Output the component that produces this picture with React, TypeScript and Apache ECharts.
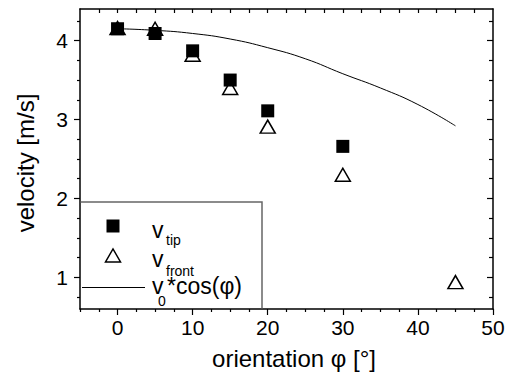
import React, { useEffect, useRef } from 'react';
import * as echarts from 'echarts';

// data
const phiTip = [0, 5, 10, 15, 20, 30];
const vTip = [4.15, 4.09, 3.87, 3.5, 3.11, 2.66];
const phiFront = [0, 5, 10, 15, 20, 30, 45];
const vFront = [4.16, 4.15, 3.82, 3.4, 2.91, 2.3, 0.94];
const phiModel = [0, 5, 10, 15, 20, 25, 30, 35, 40, 45];
const vModel = [4.15, 4.13, 4.09, 4.02, 3.91, 3.77, 3.58, 3.4, 3.19, 2.92];

// ticks
const xMajor = [0, 10, 20, 30, 40, 50];
const xMinor = [-5, -2.5, 2.5, 5, 7.5, 12.5, 15, 17.5, 22.5, 25, 27.5, 32.5, 35, 37.5, 42.5, 45, 47.5];
const xTop = [-2.5, 0, 2.5, 5, 7.5, 10, 12.5, 15, 17.5, 20, 22.5, 25, 27.5, 30, 32.5, 35, 37.5, 40, 42.5, 45, 47.5];
const yMajor = [1, 2, 3, 4];
const yMinor = [0.75, 1.25, 1.5, 1.75, 2.25, 2.5, 2.75, 3.25, 3.5, 3.75, 4.25];

const FONT = '"Liberation Sans", Arial, sans-serif';

export default function App() {
  const ref = useRef<HTMLDivElement>(null);
  useEffect(() => {
    document.body.style.margin = '0';
    const chart = echarts.init(ref.current!, null, { renderer: 'svg' });
    const gridBox = { left: 80, right: 17, top: 9, bottom: 67 };
    const lineStyle = { color: '#000', width: 1.5 };
    const tickStyle = { color: '#000', width: 1.2 };
    const hidden = { show: false };
    const noLine = { show: false, onZero: false };
    chart.setOption({
      animation: false,
      backgroundColor: '#fff',
      grid: [{ ...gridBox }, { ...gridBox }],
      xAxis: [
        {
          type: 'value', gridIndex: 0, position: 'bottom', min: -5, max: 50,
          axisLine: { show: true, onZero: false, lineStyle },
          axisTick: { show: true, inside: false, length: 6, customValues: xMajor, lineStyle: tickStyle },
          axisLabel: { show: true, customValues: xMajor, margin: 8, fontSize: 21, color: '#000', fontFamily: FONT },
          splitLine: hidden,
        },
        {
          type: 'value', gridIndex: 0, position: 'top', min: -5, max: 50,
          axisLine: { show: true, onZero: false, lineStyle },
          axisTick: { show: true, inside: true, length: 4, customValues: xTop, lineStyle: tickStyle },
          axisLabel: hidden,
          splitLine: hidden,
        },
        {
          type: 'value', gridIndex: 1, position: 'bottom', min: -5, max: 50,
          axisLine: noLine,
          axisTick: { show: true, inside: false, length: 3, customValues: xMinor, lineStyle: tickStyle },
          axisLabel: hidden,
          splitLine: hidden,
        },
      ],
      yAxis: [
        {
          type: 'value', gridIndex: 0, position: 'left', min: 0.6, max: 4.4,
          axisLine: { show: true, onZero: false, lineStyle },
          axisTick: { show: true, inside: false, length: 6, customValues: yMajor, lineStyle: tickStyle },
          axisLabel: { show: true, customValues: yMajor, margin: 12, fontSize: 21, color: '#000', fontFamily: FONT },
          splitLine: hidden,
        },
        {
          type: 'value', gridIndex: 0, position: 'right', min: 0.6, max: 4.4,
          axisLine: { show: true, onZero: false, lineStyle },
          axisTick: { show: true, inside: true, length: 6, customValues: yMajor, lineStyle: tickStyle },
          axisLabel: hidden,
          splitLine: hidden,
        },
        {
          type: 'value', gridIndex: 1, position: 'left', min: 0.6, max: 4.4,
          axisLine: noLine,
          axisTick: { show: true, inside: false, length: 3, customValues: yMinor, lineStyle: tickStyle },
          axisLabel: hidden,
          splitLine: hidden,
        },
        {
          type: 'value', gridIndex: 1, position: 'right', min: 0.6, max: 4.4,
          axisLine: noLine,
          axisTick: { show: true, inside: true, length: 4, customValues: yMinor, lineStyle: tickStyle },
          axisLabel: hidden,
          splitLine: hidden,
        },
      ],
      series: [
        {
          name: 'v0*cos(φ)', type: 'line', xAxisIndex: 0, yAxisIndex: 0,
          data: phiModel.map((p, i) => [p, vModel[i]]),
          smooth: true, showSymbol: false, symbol: 'none',
          lineStyle: { color: '#000', width: 1 }, z: 2,
        },
        {
          name: 'v_front', type: 'scatter', xAxisIndex: 0, yAxisIndex: 0,
          data: phiFront.map((p, i) => [p, vFront[i]]),
          symbol: 'triangle', symbolSize: [15, 13],
          itemStyle: { color: '#fff', borderColor: '#000', borderWidth: 1.5, opacity: 1 }, z: 3,
        },
        {
          name: 'v_tip', type: 'scatter', xAxisIndex: 0, yAxisIndex: 0,
          data: phiTip.map((p, i) => [p, vTip[i]]),
          symbol: 'rect', symbolSize: 13,
          itemStyle: { color: '#000', opacity: 1 }, z: 4,
        },
      ],
      graphic: [
        // legend box
        { type: 'rect', shape: { x: 81, y: 202, width: 181, height: 106 }, style: { fill: '#fff' }, z: 5 },
        { type: 'polyline', shape: { points: [[80.5, 202], [262, 202], [262, 308.5]] }, style: { stroke: '#666', lineWidth: 1.5, fill: null }, z: 6 },
        { type: 'rect', shape: { x: 106.5, y: 219.5, width: 13, height: 13 }, style: { fill: '#000' }, z: 6 },
        { type: 'polygon', shape: { points: [[105.5, 262], [120.5, 262], [113, 249]] }, style: { fill: '#fff', stroke: '#000', lineWidth: 1.5 }, z: 6 },
        { type: 'line', shape: { x1: 82, y1: 287.5, x2: 145, y2: 287.5 }, style: { stroke: '#000', lineWidth: 1 }, z: 6 },
        { type: 'text', x: 152, y: 230, style: { text: 'v', font: `23px ${FONT}`, fill: '#000', verticalAlign: 'middle' }, z: 6 },
        { type: 'text', x: 166, y: 240, style: { text: 'tip', font: `14px ${FONT}`, fill: '#000', verticalAlign: 'middle' }, z: 6 },
        { type: 'text', x: 152, y: 259, style: { text: 'v', font: `23px ${FONT}`, fill: '#000', verticalAlign: 'middle' }, z: 6 },
        { type: 'text', x: 166, y: 271, style: { text: 'front', font: `14px ${FONT}`, fill: '#000', verticalAlign: 'middle' }, z: 6 },
        { type: 'text', x: 152, y: 286, style: { text: 'v', font: `23px ${FONT}`, fill: '#000', verticalAlign: 'middle' }, z: 6 },
        { type: 'text', x: 158, y: 301, style: { text: '0', font: `14px ${FONT}`, fill: '#000', verticalAlign: 'middle' }, z: 6 },
        { type: 'text', x: 167, y: 286, style: { text: '*cos(φ)', font: `23px ${FONT}`, fill: '#000', verticalAlign: 'middle' }, z: 6 },
        // axis titles
        { type: 'text', x: 294, y: 358, style: { text: 'orientation φ [°]', font: `24px ${FONT}`, fill: '#000', align: 'center', verticalAlign: 'middle' }, z: 6 },
        { type: 'text', x: 25, y: 163, rotation: Math.PI / 2, style: { text: 'velocity [m/s]', font: `24px ${FONT}`, fill: '#000', align: 'center', verticalAlign: 'middle' }, z: 6 },
      ],
    });
    return () => chart.dispose();
  }, []);
  return <div ref={ref} style={{ width: 510, height: 376 }} />;
}
